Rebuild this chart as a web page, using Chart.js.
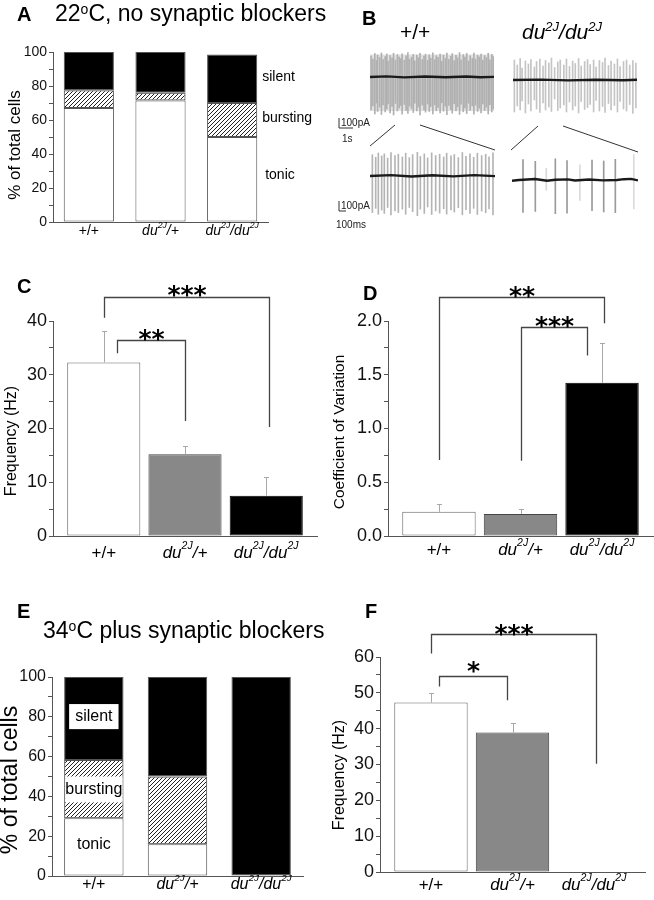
<!DOCTYPE html>
<html>
<head>
<meta charset="utf-8">
<script src="https://cdn.jsdelivr.net/npm/chart.js@4.4.1/dist/chart.umd.min.js"></script>
<style>
  body { margin: 0; background: #fff; }
  #fig { position: relative; width: 654px; height: 900px; overflow: hidden; font-family: "Liberation Sans", Arial, sans-serif; }
  #fig canvas, #fig svg { position: absolute; left: 0; top: 0; }
  .t { position: absolute; white-space: nowrap; color: #000; line-height: 1; }
  .L { font-weight: bold; font-size: 20px; }
  .ttl { font-size: 23px; }
  .ttl sup { font-size: 14px; vertical-align: 7px; }
  .gt { font-size: 21px; }
  .gt sup { font-size: 13px; vertical-align: 8px; }
</style>
</head>
<body>
<div id="fig">
  <canvas id="cA" width="654" height="900"></canvas>
  <canvas id="cC" width="654" height="900"></canvas>
  <canvas id="cD" width="654" height="900"></canvas>
  <canvas id="cE" width="654" height="900"></canvas>
  <canvas id="cF" width="654" height="900"></canvas>
  <canvas id="bWtTop" width="654" height="900"></canvas>
  <canvas id="bDuTop" width="654" height="900"></canvas>
  <canvas id="bWtBot" width="654" height="900"></canvas>
  <canvas id="bDuBot" width="654" height="900"></canvas>

  <svg width="654" height="900">
    <g stroke="#333" stroke-width="1" fill="none">
      <line x1="395" y1="125" x2="370" y2="146"/>
      <line x1="420" y1="125" x2="495" y2="150"/>
      <line x1="538" y1="126" x2="511" y2="150"/>
      <line x1="563" y1="126" x2="638" y2="152"/>
      <polyline points="339,118 339,128 353,128"/>
      <polyline points="339,201 339,211 346,211"/>
    </g>
    <g font-family="Liberation Sans, Arial, sans-serif" font-size="10" fill="#222">
      <text x="341" y="126">100pA</text>
      <text x="342" y="142">1s</text>
      <text x="341" y="209">100pA</text>
      <text x="336" y="228">100ms</text>
    </g>
  </svg>

  <div class="t L" style="left:17px;top:4px">A</div>
  <div class="t ttl" style="left:55px;top:2px">22<sup>o</sup>C, no synaptic blockers</div>
  <div class="t L" style="left:362px;top:8px">B</div>
  <div class="t gt" style="left:400px;top:21px">+/+</div>
  <div class="t gt" style="left:522px;top:20px"><i>du<sup>2J</sup>/du<sup>2J</sup></i></div>
  <div class="t L" style="left:17px;top:276px">C</div>
  <div class="t L" style="left:363px;top:283px">D</div>
  <div class="t L" style="left:17px;top:601px">E</div>
  <div class="t ttl" style="left:43px;top:619px">34<sup>o</sup>C plus synaptic blockers</div>
  <div class="t L" style="left:365px;top:601px">F</div>
</div>

<script>
// ---- data ----
const genotypes = ['+/+', 'du2J/+', 'du2J/du2J'];

// A: 22 C, % of cells (stacked)
const tonic22 = [67, 71.5, 50];
const bursting22 = [10.5, 4.5, 20];
const silent22 = [22.5, 24, 28.5];

// C: firing frequency (Hz), 22 C
const freq22 = [32.3, 15.2, 7.5];
const freq22Err = [5.9, 1.6, 3.4];

// D: coefficient of variation
const cv22 = [0.225, 0.205, 1.425];
const cv22Err = [0.07, 0.045, 0.37];

// E: 34 C plus blockers, % of cells (stacked)
const tonic34 = [29, 16, 0];
const bursting34 = [29.3, 34, 0];
const silent34 = [41.7, 50, 100];

// F: firing frequency (Hz), 34 C
const freq34 = [47.3, 38.9, 0];
const freq34Err = [2.7, 2.7, 0];

// B: example traces, spikes as [time s, up pA, down pA]
const wtTopSpikes = [
  [0.08,210,330],[0.21,180,290],[0.35,235,370],[0.47,165,260],[0.55,220,345],[0.70,195,300],[0.83,240,375],[0.95,175,280],[1.10,205,350],[1.22,230,320],
  [1.31,160,270],[1.46,215,360],[1.60,190,295],[1.71,238,380],[1.85,170,265],[1.99,225,340],[2.12,200,310],[2.24,185,285],[2.33,232,372],[2.49,168,275],
  [2.62,212,335],[2.75,245,365],[2.86,178,290],[3.01,198,315],[3.14,226,355],[3.25,162,262],[3.40,218,340],[3.52,192,300],[3.63,236,378],[3.79,174,280],
  [3.92,208,330],[4.03,228,352],[4.18,166,270],[4.30,222,345],[4.41,188,295],[4.56,242,370],[4.70,172,278],[4.81,214,338],[4.94,196,305],[5.09,230,360],
  [5.21,158,258],[5.33,220,342],[5.47,184,292],[5.58,240,376],[5.72,176,284],[5.86,206,326],[5.97,234,362],[6.11,164,268],[6.24,216,340],[6.36,190,298],
  [6.50,244,374],[6.61,170,272],[6.77,224,348],[6.89,198,310],[7.02,236,366],[7.15,160,262],[7.27,212,334],[7.42,186,290],[7.54,240,372],[7.66,178,282],
  [7.81,218,344],[7.93,200,312],[8.06,230,358],[8.19,168,270],[8.32,214,336],[8.45,194,302],[8.58,238,370],[8.70,172,276],[8.84,226,350],[8.95,204,318]
];
const wtTopBand = [-340, 225];
const wtTopBase = [[0,0],[1.2,6],[2.5,-4],[4,5],[5.5,-3],[7,5],[8,-2],[9,1]];

const duTopSpikes = [
  [0.10,200,320],[0.31,150,260],[0.52,215,300],[0.66,120,210],[0.90,190,330],[1.12,160,240],[1.30,205,310],[1.55,130,200],[1.71,185,290],[1.95,210,325],
  [2.18,140,230],[2.36,195,300],[2.60,170,270],[2.79,220,315],[3.02,125,190],[3.25,180,305],[3.43,200,280],[3.69,150,250],[3.88,210,320],[4.10,135,220],
  [4.33,190,300],[4.52,165,260],[4.76,215,330],[4.95,140,215],[5.20,185,295],[5.41,205,275],[5.60,155,245],[5.85,200,320],[6.03,130,205],[6.27,195,310],
  [6.50,175,265],[6.68,220,325],[6.93,145,235],[7.12,190,300],[7.36,160,255],[7.58,210,320],[7.77,135,215],[8.02,185,290],[8.24,200,310],[8.47,150,245],
  [8.70,195,335],[8.92,170,280]
];
const duTopBase = [[0,0],[2,4],[4,-4],[6,3],[8,-3],[9,2]];

const wtBotSpikes = [
  [0.034,125,215],[0.082,110,190],[0.120,135,225],[0.168,118,200],[0.206,130,220],[0.254,105,185],[0.302,138,228],[0.360,120,205],[0.408,128,215],[0.466,112,195],
  [0.514,134,225],[0.566,108,185],[0.614,126,210],[0.682,140,235],[0.725,115,195],[0.782,130,220],[0.830,106,182],[0.888,136,226],[0.946,120,205],[1.003,128,218],
  [1.061,112,192],[1.104,134,224],[1.166,118,200],[1.214,126,212],[1.272,108,186],[1.330,138,228],[1.382,116,198],[1.440,130,220],[1.493,110,190],[1.546,134,226],
  [1.608,120,206],[1.666,128,216],[1.714,112,194],[1.771,136,228]
];
const wtBotBase = [[0,0],[0.3,5],[0.6,-3],[0.9,4],[1.2,-2],[1.5,5],[1.8,-1]];

const duBotSpikes = [[0.157,120,190],[0.333,110,185],[0.619,125,200],[0.786,115,195],[1.143,118,180],[1.310,112,188],[1.476,122,192]];
const duBotFaint = [[0.49,70,60],[0.97,90,120],[1.74,150,170]];
const duBotBase = [[0,-4],[0.1,0],[0.33,6],[0.5,-4],[0.62,2],[0.8,4],[0.9,-3],[1.1,3],[1.3,-2],[1.5,0],[1.6,5],[1.7,7],[1.8,-2]];

// ---- drawing ----
const W = 654, H = 900;
const FONT = '"Liberation Sans", Arial, sans-serif';
const AX = '#555';

function hatchPattern() {
  const c = document.createElement('canvas');
  c.width = 4; c.height = 4;
  const g = c.getContext('2d');
  g.strokeStyle = '#222';
  g.lineWidth = 1;
  g.beginPath();
  g.moveTo(0, 4); g.lineTo(4, 0);
  g.moveTo(-1, 1); g.lineTo(1, -1);
  g.moveTo(3, 5); g.lineTo(5, 3);
  g.stroke();
  return g.createPattern(c, 'repeat');
}
const hatch = hatchPattern();

// genotype label with italic du and superscript 2J
function drawGenotype(ctx, text, cx, cy, size) {
  const italic = text.includes('du');
  const parts = text.split(/(2J)/).filter(s => s.length);
  const sub = size * 0.62;
  const fontOf = p => (italic ? 'italic ' : '') + (p === '2J' ? sub : size) + 'px ' + FONT;
  let total = 0;
  parts.forEach(p => { ctx.font = fontOf(p); total += ctx.measureText(p).width; });
  let x = cx - total / 2;
  ctx.textAlign = 'left';
  ctx.textBaseline = 'middle';
  parts.forEach(p => {
    ctx.font = fontOf(p);
    ctx.fillText(p, x, p === '2J' ? cy - size * 0.42 : cy);
    x += ctx.measureText(p).width;
  });
}

const figPlugin = {
  id: 'fig',
  afterDatasetsDraw(chart, args, o) {
    const ctx = chart.ctx, xs = chart.scales.x, ys = chart.scales.y, ca = chart.chartArea;
    ctx.save();
    ctx.fillStyle = '#000';

    (o.boxes || []).forEach(b => {
      const el = chart.getDatasetMeta(0).data[b.cat];
      const half = el.width / 2 - b.inset;
      const top = ys.getPixelForValue(b.y1), bot = ys.getPixelForValue(b.y0);
      ctx.fillStyle = '#fff';
      ctx.fillRect(el.x - half, top, half * 2, bot - top);
    });

    (o.notes || []).forEach(n => {
      ctx.fillStyle = '#000';
      ctx.font = n.size + 'px ' + FONT;
      ctx.textAlign = n.align;
      ctx.textBaseline = 'middle';
      ctx.fillText(n.text, xs.getPixelForValue(n.cat) + n.dx, ys.getPixelForValue(n.y));
    });

    if (o.err) {
      ctx.strokeStyle = '#a8a8a8';
      ctx.lineWidth = 1;
      o.err.forEach((e, i) => {
        if (!e) return;
        const x = Math.round(xs.getPixelForValue(i)) + 0.5;
        const y0 = ys.getPixelForValue(o.vals[i]);
        const y1 = Math.round(ys.getPixelForValue(o.vals[i] + e)) + 0.5;
        ctx.beginPath();
        ctx.moveTo(x, y0); ctx.lineTo(x, y1);
        ctx.moveTo(x - 2.5, y1); ctx.lineTo(x + 2.5, y1);
        ctx.stroke();
      });
    }

    (o.brackets || []).forEach(b => {
      const x0 = Math.round(xs.getPixelForValue(b.x0)) + 0.5;
      const x1 = Math.round(xs.getPixelForValue(b.x1)) + 0.5;
      const y = Math.round(ys.getPixelForValue(b.y)) + 0.5;
      ctx.strokeStyle = '#444';
      ctx.lineWidth = 1.3;
      ctx.beginPath();
      ctx.moveTo(x0, ys.getPixelForValue(b.l0));
      ctx.lineTo(x0, y); ctx.lineTo(x1, y);
      ctx.lineTo(x1, ys.getPixelForValue(b.l1));
      ctx.stroke();
      const s = 25;
      ctx.fillStyle = '#000';
      ctx.font = 'bold ' + s + 'px "DejaVu Sans"';
      ctx.textAlign = 'center';
      ctx.textBaseline = 'alphabetic';
      ctx.fillText(b.text, (x0 + x1) / 2, y - b.gap + s * 0.55);
    });

    if (o.cats) {
      ctx.fillStyle = '#000';
      o.cats.forEach((c, i) => drawGenotype(ctx, c, xs.getPixelForValue(i), ca.bottom + o.catGap, o.catSize));
    }

    if (o.ytitle) {
      const t = o.ytitle;
      ctx.fillStyle = '#000';
      ctx.font = t.size + 'px ' + FONT;
      ctx.textAlign = 'center';
      ctx.textBaseline = 'middle';
      ctx.translate(t.x, t.y);
      ctx.rotate(-Math.PI / 2);
      ctx.fillText(t.text, 0, 0);
    }
    ctx.restore();
  }
};

function yAxis(p) {
  return {
    stacked: !!p.stacked,
    min: p.min, max: p.max,
    afterFit: s => { s.width = 45; },
    border: { color: AX, width: 1 },
    grid: { drawOnChartArea: false, tickLength: 4, tickColor: AX },
    ticks: {
      stepSize: p.step, autoSkip: false, padding: 2, color: '#111',
      font: { family: FONT, size: p.tickSize },
      callback: v => {
        const k = Math.round(v / p.major * 1000);
        return k % 1000 === 0 ? p.fmt(v) : '';
      }
    }
  };
}

function barOptions(p) {
  return {
    responsive: false, animation: false, events: [],
    layout: { padding: { left: p.l - 45, top: p.t, right: W - p.r, bottom: H - p.b } },
    plugins: { legend: { display: false }, tooltip: { enabled: false }, fig: p.fig },
    scales: { x: p.x, y: yAxis(p.y) }
  };
}

const catX = {
  type: 'category', stacked: true, offset: true,
  grid: { display: false }, ticks: { display: false },
  border: { color: AX, width: 1 },
  afterFit: s => { s.height = 0; }
};
const linX = {
  type: 'linear', min: -0.625, max: 2.625, offset: false,
  grid: { display: false, offset: false }, ticks: { display: false },
  border: { color: AX, width: 1 },
  afterBuildTicks: s => { s.ticks = [0, 1, 2].map(v => ({ value: v })); },
  afterFit: s => { s.height = 0; }
};

function stackSets(tonic, bursting, silent, bp) {
  const common = { borderColor: '#555', borderWidth: 1, borderSkipped: false, barPercentage: bp, categoryPercentage: 1 };
  return [
    Object.assign({ label: 'tonic', data: tonic, backgroundColor: '#fff' }, common),
    Object.assign({ label: 'bursting', data: bursting, backgroundColor: hatch }, common),
    Object.assign({ label: 'silent', data: silent, backgroundColor: '#000', borderColor: '#000' }, common)
  ];
}

function meanSet(vals) {
  return [{
    data: vals.map((v, i) => ({ x: i, y: v })),
    backgroundColor: ['#fff', '#888', '#000'],
    borderColor: ['#666', '#444', '#000'],
    borderWidth: 1, borderSkipped: false,
    barPercentage: 0.9, categoryPercentage: 1
  }];
}

// A
new Chart(document.getElementById('cA'), {
  type: 'bar',
  data: { labels: genotypes, datasets: stackSets(tonic22, bursting22, silent22, 0.7) },
  options: barOptions({
    l: 53, t: 52, r: 268, b: 222, x: catX,
    y: { stacked: true, min: 0, max: 100, step: 10, major: 20, tickSize: 14, fmt: v => String(v) },
    fig: {
      cats: genotypes, catGap: 9, catSize: 14,
      ytitle: { text: '% of total cells', size: 17, x: 15, y: 145 },
      notes: [
        { text: 'silent', cat: 2, dx: 30, y: 85, size: 14, align: 'left' },
        { text: 'bursting', cat: 2, dx: 30, y: 61, size: 14, align: 'left' },
        { text: 'tonic', cat: 2, dx: 33, y: 27.6, size: 14, align: 'left' }
      ]
    }
  }),
  plugins: [figPlugin]
});

// C
new Chart(document.getElementById('cC'), {
  type: 'bar',
  data: { datasets: meanSet(freq22) },
  options: barOptions({
    l: 53, t: 321, r: 317, b: 536, x: linX,
    y: { min: 0, max: 40, step: 5, major: 10, tickSize: 18, fmt: v => String(v) },
    fig: {
      vals: freq22, err: freq22Err,
      cats: genotypes, catGap: 17, catSize: 17,
      ytitle: { text: 'Frequency (Hz)', size: 16, x: 12, y: 441 },
      brackets: [
        { x0: 0, x1: 2.04, y: 44.5, l0: 40.6, l1: 20.3, text: '***', gap: 8 },
        { x0: 0.16, x1: 1.0, y: 36.5, l0: 34, l1: 21.4, text: '**', gap: 7 }
      ]
    }
  }),
  plugins: [figPlugin]
});

// D
new Chart(document.getElementById('cD'), {
  type: 'bar',
  data: { datasets: meanSet(cv22) },
  options: barOptions({
    l: 388, t: 321, r: 653, b: 536, x: linX,
    y: { min: 0, max: 2, step: 0.25, major: 0.5, tickSize: 18, fmt: v => v.toFixed(1) },
    fig: {
      vals: cv22, err: cv22Err,
      cats: genotypes, catGap: 14, catSize: 17,
      ytitle: { text: 'Coefficient of Variation', size: 15.5, x: 340, y: 432 },
      brackets: [
        { x0: 0, x1: 2.02, y: 2.223, l0: 0.707, l1: 1.98, text: '**', gap: 7 },
        { x0: 1.0, x1: 1.81, y: 1.94, l0: 0.70, l1: 1.68, text: '***', gap: 7 }
      ]
    }
  }),
  plugins: [figPlugin]
});

// E
new Chart(document.getElementById('cE'), {
  type: 'bar',
  data: { labels: genotypes, datasets: stackSets(tonic34, bursting34, silent34, 0.71) },
  options: barOptions({
    l: 52, t: 677, r: 303, b: 876, x: catX,
    y: { stacked: true, min: 0, max: 100, step: 10, major: 20, tickSize: 16, fmt: v => String(v) },
    fig: {
      cats: genotypes, catGap: 9, catSize: 16,
      ytitle: { text: '% of total cells', size: 23, x: 11, y: 780 },
      boxes: [
        { cat: 0, y0: 73.8, y1: 86.4, inset: 5 },
        { cat: 0, y0: 37, y1: 50, inset: 1 }
      ],
      notes: [
        { text: 'silent', cat: 0, dx: 0, y: 80, size: 16, align: 'center' },
        { text: 'bursting', cat: 0, dx: 0, y: 43.3, size: 16, align: 'center' },
        { text: 'tonic', cat: 0, dx: 0, y: 15.6, size: 16, align: 'center' }
      ]
    }
  }),
  plugins: [figPlugin]
});

// F
new Chart(document.getElementById('cF'), {
  type: 'bar',
  data: { datasets: meanSet(freq34) },
  options: barOptions({
    l: 380, t: 657, r: 645, b: 872, x: linX,
    y: { min: 0, max: 60, step: 5, major: 10, tickSize: 18, fmt: v => String(v) },
    fig: {
      vals: freq34, err: freq34Err,
      cats: genotypes, catGap: 13, catSize: 17,
      ytitle: { text: 'Frequency (Hz)', size: 16, x: 340, y: 775 },
      brackets: [
        { x0: 0, x1: 2.02, y: 66.5, l0: 61, l1: 30.2, text: '***', gap: 6 },
        { x0: 0.1, x1: 0.93, y: 54.6, l0: 51.8, l1: 47.9, text: '*', gap: 11 }
      ]
    }
  }),
  plugins: [figPlugin]
});

// B traces
function traceChart(id, box, yMin, yMax, tMax, spikeSets, base, band) {
  const datasets = [{
    type: 'line', order: 0,
    data: base.map(([x, y]) => ({ x, y })),
    borderColor: '#1a1a1a', borderWidth: 2.4, pointRadius: 0, tension: 0
  }];
  spikeSets.forEach(([spikes, color], k) => {
    datasets.push({
      type: 'bar', order: 1 + k, grouped: false,
      data: spikes.map(([t, up, dn]) => ({ x: t, y: [-dn, up] })),
      backgroundColor: color, barThickness: 1, borderWidth: 0
    });
  });
  if (band) {
    datasets.push({
      type: 'line', order: 9,
      data: [{ x: 0, y: band[1] }, { x: tMax, y: band[1] }],
      fill: { value: band[0] }, backgroundColor: '#e2e2e2', borderWidth: 0, pointRadius: 0
    });
  }
  new Chart(document.getElementById(id), {
    type: 'bar',
    data: { datasets },
    options: {
      responsive: false, animation: false, events: [],
      layout: { padding: { left: box.l, top: box.t, right: W - box.r, bottom: H - box.b } },
      plugins: { legend: { display: false }, tooltip: { enabled: false } },
      scales: {
        x: { type: 'linear', min: 0, max: tMax, display: false, offset: false },
        y: { min: yMin, max: yMax, display: false }
      }
    }
  });
}

traceChart('bWtTop', { l: 370, r: 494, t: 52, b: 117 }, -400, 250, 9, [[wtTopSpikes, '#b0b0b0']], wtTopBase, wtTopBand);
traceChart('bDuTop', { l: 513, r: 637, t: 57, b: 114 }, -340, 230, 9, [[duTopSpikes, '#c4c4c4']], duTopBase);
traceChart('bWtBot', { l: 370, r: 495, t: 152, b: 216 }, -235, 141, 1.8, [[wtBotSpikes, '#b4b4b4']], wtBotBase);
traceChart('bDuBot', { l: 512, r: 638, t: 152, b: 214 }, -200, 165, 1.8, [[duBotSpikes, '#9a9a9a'], [duBotFaint, '#dadada']], duBotBase);
</script>
</body>
</html>
